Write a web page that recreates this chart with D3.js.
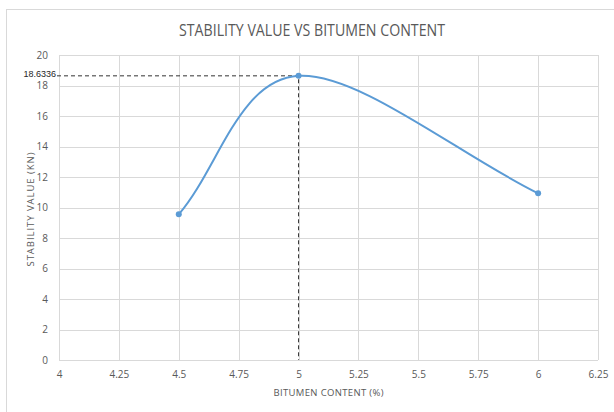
<!DOCTYPE html>
<html>
<head>
<meta charset="utf-8">
<script src="https://cdn.jsdelivr.net/npm/d3@7"></script>
<style>
  html, body { margin: 0; padding: 0; background: #fff; }
  svg { display: block; }
</style>
</head>
<body>
<svg id="chart" width="614" height="412"></svg>
<script>
// Marshall test: stability against bitumen content
const bitumenContent = [4.5, 5, 6];
const stabilityValue = [9.55, 18.6336, 10.93];
const xTicks = [4, 4.25, 4.5, 4.75, 5, 5.25, 5.5, 5.75, 6, 6.25];
const yTicks = [0, 2, 4, 6, 8, 10, 12, 14, 16, 18, 20];
const peakLabel = "18.6336";

// Spreadsheet-style smoothed line: Catmull-Rom tangents, with the end
// tangents taken from a mirrored neighbour so the ends leave along the chord.
function curveSmoothLine(context) {
  let pts = [];
  return {
    areaStart() {}, areaEnd() {},
    lineStart() { pts = []; },
    point(x, y) { pts.push([+x, +y]); },
    lineEnd() {
      const n = pts.length;
      if (!n) return;
      context.moveTo(pts[0][0], pts[0][1]);
      if (n === 1) return;
      const at = i => {
        if (i < 0) return [2 * pts[0][0] - pts[1][0], 2 * pts[0][1] - pts[1][1]];
        if (i >= n) return [2 * pts[n - 1][0] - pts[n - 2][0], 2 * pts[n - 1][1] - pts[n - 2][1]];
        return pts[i];
      };
      for (let i = 0; i < n - 1; i++) {
        const p0 = at(i - 1), p1 = at(i), p2 = at(i + 1), p3 = at(i + 2);
        context.bezierCurveTo(
          p1[0] + (p2[0] - p0[0]) / 6, p1[1] + (p2[1] - p0[1]) / 6,
          p2[0] - (p3[0] - p1[0]) / 6, p2[1] - (p3[1] - p1[1]) / 6,
          p2[0], p2[1]);
      }
    }
  };
}

const svg = d3.select("#chart");
const W = 614, H = 412;
const m = { left: 59, right: 16, top: 55, bottom: 52 };

// chart frame
svg.append("rect")
  .attr("x", 6.5).attr("y", 9.5)
  .attr("width", W + 10).attr("height", H + 10)
  .attr("fill", "#fff").attr("stroke", "#d9d9d9");

const x = d3.scaleLinear().domain([4, 6.25]).range([m.left, W - m.right]);
const y = d3.scaleLinear().domain([0, 20]).range([H - m.bottom, m.top]);

const font = "'Open Sans', sans-serif";
const grey = "#595959";

// gridlines
const grid = svg.append("g");
grid.selectAll("line.h").data(yTicks).join("line")
  .attr("x1", x(4)).attr("x2", x(6.25))
  .attr("y1", d => Math.round(y(d)) + 0.5).attr("y2", d => Math.round(y(d)) + 0.5)
  .attr("stroke", "#d9d9d9");
grid.selectAll("line.v").data(xTicks).join("line")
  .attr("y1", y(0)).attr("y2", y(20))
  .attr("x1", d => Math.round(x(d)) + 0.5).attr("x2", d => Math.round(x(d)) + 0.5)
  .attr("stroke", "#d9d9d9");

// axes
const xAxis = svg.append("g")
  .attr("transform", `translate(0,${y(0) + 8})`)
  .call(d3.axisBottom(x).tickValues(xTicks).tickFormat(d => String(d)).tickSize(0));
const yAxis = svg.append("g")
  .attr("transform", `translate(${x(4) - 8},0)`)
  .call(d3.axisLeft(y).tickValues(yTicks).tickSize(0));
[xAxis, yAxis].forEach(a => {
  a.select(".domain").remove();
  a.selectAll("text").attr("fill", grey).style("font-family", font).style("font-size", "10px");
});

// title and axis labels
svg.append("text")
  .attr("x", 312).attr("y", 36)
  .attr("text-anchor", "middle")
  .attr("fill", grey)
  .attr("textLength", 266).attr("lengthAdjust", "spacingAndGlyphs")
  .style("font-family", font).style("font-size", "15.5px")
  .text("STABILITY VALUE VS BITUMEN CONTENT");

svg.append("text")
  .attr("x", (x(4) + x(6.25)) / 2).attr("y", 396)
  .attr("text-anchor", "middle")
  .attr("fill", grey)
  .attr("textLength", 110).attr("lengthAdjust", "spacing")
  .style("font-family", font).style("font-size", "9.5px")
  .text("BITUMEN CONTENT (%)");

svg.append("text")
  .attr("transform", `translate(34,${(y(0) + y(20)) / 2 + 2}) rotate(-90)`)
  .attr("text-anchor", "middle")
  .attr("fill", grey)
  .attr("textLength", 114).attr("lengthAdjust", "spacing")
  .style("font-family", font).style("font-size", "9.5px")
  .text("STABILITY VALUE (KN)");

// peak guide lines
const peakIdx = d3.maxIndex(stabilityValue);
const px = x(bitumenContent[peakIdx]), py = y(stabilityValue[peakIdx]);
svg.append("path")
  .attr("d", `M${x(4) - 2},${py}H${px}V${y(0)}`)
  .attr("fill", "none")
  .attr("stroke", "#333")
  .attr("stroke-width", 1)
  .attr("stroke-dasharray", "4,3");
svg.append("text")
  .attr("x", x(4) - 3).attr("y", py + 1)
  .attr("text-anchor", "end")
  .attr("fill", "#262626")
  .style("font-family", "'Liberation Sans', Arial, sans-serif").style("font-size", "9px")
  .text(peakLabel);

// smoothed series line
const pts = bitumenContent.map((d, i) => [d, stabilityValue[i]]);
svg.append("path")
  .datum(pts)
  .attr("fill", "none")
  .attr("stroke", "#5b9bd5")
  .attr("stroke-width", 2)
  .attr("d", d3.line().x(d => x(d[0])).y(d => y(d[1])).curve(curveSmoothLine));

svg.selectAll("circle.pt").data(pts).join("circle")
  .attr("cx", d => x(d[0])).attr("cy", d => y(d[1]))
  .attr("r", 3).attr("fill", "#5b9bd5");
</script>
</body>
</html>
